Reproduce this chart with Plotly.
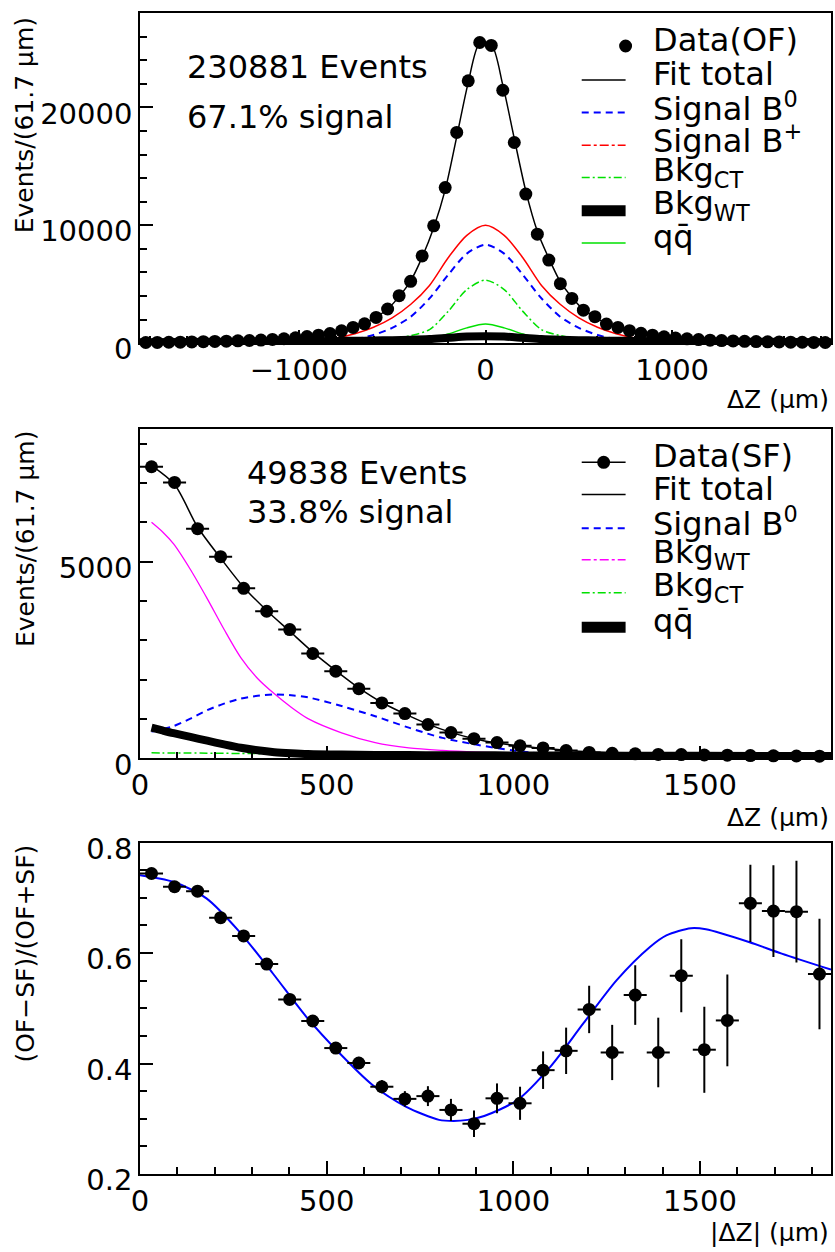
import plotly.graph_objects as go

# ---------------- data ----------------
BIN_WIDTH = 61.7  # µm

# |ΔZ| bin centres (61.7 µm bins from 0 to 1851 µm)
ABS_DZ_CENTERS = [30.85, 92.55, 154.25, 215.95, 277.65, 339.35, 401.05, 462.75, 524.45, 586.15,
                  647.85, 709.55, 771.25, 832.95, 894.65, 956.35, 1018.05, 1079.75, 1141.45, 1203.15,
                  1264.85, 1326.55, 1388.25, 1449.95, 1511.65, 1573.35, 1635.05, 1696.75, 1758.45, 1820.15]
# signed ΔZ bin centres (-1851 .. 1851 µm)
DZ_CENTERS = [-c for c in reversed(ABS_DZ_CENTERS)] + ABS_DZ_CENTERS

# opposite-flavour sample
OF_EVENTS = [60, 70, 80, 90, 110, 130, 150, 170, 200, 230,
             270, 320, 380, 460, 560, 680, 820, 1050, 1340, 1640,
             2190, 2900, 4030, 5250, 7400, 9950, 13200, 17870, 22250, 25500,
             25250, 21450, 17020, 12650, 9250, 7050, 5050, 3800, 2800, 2250,
             1620, 1340, 1060, 840, 680, 540, 440, 370, 310, 260,
             220, 190, 160, 140, 120, 110, 90, 80, 70, 60]
OF_FIT_TOTAL = [60, 70, 80, 90, 105, 120, 140, 162, 190, 225,
                265, 315, 375, 450, 550, 680, 840, 1060, 1330, 1680,
                2200, 2900, 3950, 5280, 7300, 9800, 13000, 17500, 22100, 25450,
                25350, 21900, 17350, 12900, 9500, 7200, 5200, 3900, 2850, 2220,
                1650, 1320, 1050, 840, 680, 550, 450, 375, 315, 265,
                225, 190, 162, 140, 120, 105, 90, 80, 70, 60]
OF_CURVE_X = [-1851, -1400, -1000, -800, -700, -600, -500, -400, -300, -200, -100, 0,
              100, 200, 300, 400, 500, 600, 700, 800, 1000, 1400, 1851]
OF_SIGNAL_BPLUS = [0, 20, 150, 450, 800, 1350, 2150, 3300, 4900, 7250, 9150, 10000,
                   9150, 7250, 4900, 3300, 2150, 1350, 800, 450, 150, 20, 0]
OF_SIGNAL_B0 = [0, 5, 30, 150, 330, 700, 1300, 2250, 3800, 5800, 7600, 8350,
                7600, 5800, 3800, 2250, 1300, 700, 330, 150, 30, 5, 0]
OF_BKG_CT = [0, 5, 15, 40, 80, 180, 350, 650, 1150, 2700, 4550, 5350,
             4550, 2700, 1150, 650, 350, 180, 80, 40, 15, 5, 0]
OF_BKG_WT = [90, 120, 150, 190, 210, 230, 260, 300, 360, 460, 560, 600,
             560, 460, 360, 300, 260, 230, 210, 190, 150, 120, 90]
OF_QQ = [0, 0, 5, 20, 30, 40, 80, 150, 350, 780, 1300, 1620,
         1300, 780, 350, 150, 80, 40, 30, 20, 5, 0, 0]

# same-flavour sample
SF_EVENTS = [7411, 7013, 5838, 5127, 4322, 3739, 3274, 2665, 2216, 1770,
             1410, 1138, 860, 655, 500, 400, 320, 265, 200, 150,
             130, 115, 100, 95, 85, 80, 70, 65, 60, 55]
SF_ERRORS = [86, 84, 76, 72, 66, 61, 57, 52, 47, 42,
             37, 34, 29, 26, 22, 20, 18, 16, 14, 12,
             11, 11, 10, 10, 9, 9, 8, 8, 8, 7]
SF_FIT_TOTAL = [7440, 6960, 5880, 5090, 4350, 3760, 3230, 2700, 2230, 1790,
                1420, 1130, 870, 660, 500, 390, 315, 255, 205, 165,
                140, 120, 108, 98, 90, 83, 77, 72, 67, 62]
SF_CURVE_X = [30.85, 60, 90, 135, 180, 225, 270, 315, 360, 405, 450, 540, 630, 720, 810, 900,
              1000, 1100, 1300, 1500, 1851]
SF_SIGNAL_B0 = [680, 740, 820, 1010, 1225, 1390, 1520, 1590, 1625, 1605, 1550, 1330, 1070, 780, 520, 350,
                200, 100, 30, 8, 0]
SF_BKG_WT = [6000, 5760, 5450, 4800, 4060, 3280, 2560, 2030, 1640, 1300, 1010, 650, 400, 265, 200, 158,
             130, 110, 90, 75, 60]
SF_BKG_CT = [140, 139, 138, 135, 132, 128, 124, 120, 115, 110, 105, 96, 88, 80, 72, 64,
             56, 48, 36, 26, 15]
SF_QQ = [780, 710, 640, 545, 450, 355, 268, 205, 158, 130, 110, 95, 88, 84, 80, 78,
         75, 72, 68, 64, 58]

# asymmetry (OF-SF)/(OF+SF)
ASYM = [0.744, 0.720, 0.712, 0.664, 0.631, 0.580, 0.516, 0.477, 0.428, 0.401,
        0.358, 0.336, 0.341, 0.316, 0.291, 0.337, 0.328, 0.388, 0.423, 0.498,
        0.420, 0.524, 0.420, 0.559, 0.425, 0.478, 0.690, 0.676, 0.675, 0.562]
ASYM_ERR = [0.006, 0.006, 0.007, 0.007, 0.008, 0.008, 0.009, 0.010, 0.010, 0.011,
            0.012, 0.014, 0.018, 0.020, 0.024, 0.027, 0.030, 0.034, 0.042, 0.043,
            0.050, 0.054, 0.063, 0.066, 0.078, 0.083, 0.070, 0.083, 0.092, 0.100]
ASYM_FIT_X = [0, 89, 178, 267, 356, 445, 534, 623, 712, 801, 840, 878, 922, 1011,
              1099, 1188, 1277, 1366, 1410, 1476, 1516, 1631, 1719, 1851]
ASYM_FIT = [0.741, 0.729, 0.699, 0.638, 0.563, 0.485, 0.419, 0.361, 0.322, 0.298, 0.296, 0.298, 0.305, 0.334,
            0.394, 0.473, 0.551, 0.611, 0.632, 0.645, 0.643, 0.620, 0.599, 0.570]

# ---------------- layout geometry ----------------
W, H = 835, 1252
ML, MR, MT, MB = 140, 2, 12, 78
PW, PH = W - ML - MR, H - MT - MB
FONT = "DejaVu Sans"
BLUE, RED, GREEN, MAGENTA = "#0000ff", "#ff0000", "#00e000", "#ff00ff"
TEXT_LIFT = 6  # raise horizontal labels so the cap height is centred on the anchor


def px(x):
    return (x - ML) / PW


def py(y):
    return 1 - (y - MT) / PH


fig = go.Figure()


def curve(x, y, color, width, xa, ya, dash="solid"):
    fig.add_trace(go.Scatter(x=x, y=y, mode="lines", xaxis=xa, yaxis=ya, showlegend=False,
                             line=dict(color=color, width=width, dash=dash, shape="spline", smoothing=0.8)))


def points(x, y, xa, ya, yerr=None):
    fig.add_trace(go.Scatter(
        x=x, y=y, mode="markers", xaxis=xa, yaxis=ya, showlegend=False, cliponaxis=False,
        marker=dict(color="black", size=13),
        error_x=dict(type="constant", value=BIN_WIDTH / 2, thickness=2, width=0, color="black"),
        error_y=(dict(type="data", array=yerr, thickness=2, width=0, color="black")
                 if yerr is not None else dict(visible=False))))


# top panel: ΔZ for opposite-flavour events
curve(OF_CURVE_X, OF_QQ, GREEN, 1.5, "x", "y")
curve(OF_CURVE_X, OF_BKG_CT, GREEN, 1.5, "x", "y", dash="8px,3px,2px,3px")
curve(OF_CURVE_X, OF_SIGNAL_B0, BLUE, 2, "x", "y", dash="7px,5px")
curve(OF_CURVE_X, OF_SIGNAL_BPLUS, RED, 1.5, "x", "y")
curve(OF_CURVE_X, OF_BKG_WT, "black", 8, "x", "y")
points(DZ_CENTERS, OF_EVENTS, "x", "y")
curve(DZ_CENTERS, OF_FIT_TOTAL, "black", 1.5, "x", "y")

# middle panel: |ΔZ| for same-flavour events
curve(SF_CURVE_X, SF_BKG_CT, GREEN, 1.5, "x2", "y2", dash="8px,3px,2px,3px")
curve(SF_CURVE_X, SF_BKG_WT, MAGENTA, 1.3, "x2", "y2")
curve(SF_CURVE_X, SF_SIGNAL_B0, BLUE, 2, "x2", "y2", dash="7px,5px")
curve(SF_CURVE_X, SF_QQ, "black", 8, "x2", "y2")
points(ABS_DZ_CENTERS, SF_EVENTS, "x2", "y2", SF_ERRORS)
curve(ABS_DZ_CENTERS, SF_FIT_TOTAL, "black", 1.5, "x2", "y2")

# bottom panel: asymmetry
curve(ASYM_FIT_X, ASYM_FIT, BLUE, 2, "x3", "y3")
points(ABS_DZ_CENTERS, ASYM, "x3", "y3", ASYM_ERR)

# ---------------- axes ----------------
def axis(**kw):
    base = dict(showline=True, linecolor="black", linewidth=1.5, mirror=True,
                ticks="inside", ticklen=13, tickwidth=1.5, tickcolor="black",
                showgrid=False, zeroline=False, tickangle=0,
                tickfont=dict(family=FONT, size=29, color="black"))
    base.update(kw)
    return base


MINOR = dict(ticks="inside", ticklen=7, tickwidth=1.5, tickcolor="black", showgrid=False)

fig.update_layout(
    width=W, height=H, margin=dict(l=ML, r=MR, t=MT, b=MB),
    paper_bgcolor="white", plot_bgcolor="white", showlegend=False,
    font=dict(family=FONT, color="black"),
    xaxis=axis(range=[-1851, 1851], dtick=1000, tick0=0, anchor="y", domain=[0, 1],
               minor=dict(dtick=200, **MINOR)),
    yaxis=axis(range=[0, 28000], dtick=10000, tickformat="d", anchor="x", ticklabelshift=6,
               domain=[py(342.5), 1], minor=dict(dtick=2000, **MINOR)),
    xaxis2=axis(range=[0, 1851], dtick=500, tick0=0, anchor="y2", domain=[0, 1],
                minor=dict(dtick=100, **MINOR)),
    yaxis2=axis(range=[0, 8380], dtick=5000, tickformat="d", anchor="x2", ticklabelshift=6,
                domain=[py(758), py(428)], minor=dict(dtick=1000, **MINOR)),
    xaxis3=axis(range=[0, 1851], dtick=500, tick0=0, anchor="y3", domain=[0, 1],
                minor=dict(dtick=100, **MINOR)),
    yaxis3=axis(range=[0.2, 0.8], dtick=0.2, tick0=0.2, anchor="x3", ticklabelshift=6,
                domain=[0, py(842.3)], minor=dict(dtick=0.05, **MINOR)),
)

# ---------------- titles and texts ----------------
ann = []


def text(x, y, s, size, xanchor="left", yanchor="middle", angle=0, lift=TEXT_LIFT):
    ann.append(dict(x=px(x), y=py(y), xref="paper", yref="paper", text=s, showarrow=False,
                    xanchor=xanchor, yanchor=yanchor, textangle=angle, yshift=lift,
                    font=dict(family=FONT, size=size, color="black")))


text(25, 14, "Events/(61.7 µm)", 25, xanchor="center", yanchor="top", angle=-90, lift=0)
text(25, 428, "Events/(61.7 µm)", 25, xanchor="center", yanchor="top", angle=-90, lift=0)
text(25, 842, "(OF−SF)/(OF+SF)", 25, xanchor="center", yanchor="top", angle=-90, lift=0)
text(833, 403, "ΔZ (µm)", 25, xanchor="right", lift=4)
text(833, 821, "ΔZ (µm)", 25, xanchor="right", lift=4)
text(833, 1237, "|ΔZ| (µm)", 25, xanchor="right", lift=4)

text(185, 72, "230881 Events", 32)
text(185, 122, "67.1% signal", 32)
text(245, 478, "49838 Events", 32)
text(245, 517, "33.8% signal", 32)

# legend keys
shapes = []
KEY_X0, KEY_X1, LABEL_X = 583, 627, 652


def key_line(y, color, width, dash="solid"):
    shapes.append(dict(type="line", xref="paper", yref="paper", x0=px(KEY_X0), x1=px(KEY_X1),
                       y0=py(y), y1=py(y), line=dict(color=color, width=width, dash=dash)))


def key_dot(x, y, r=6.5):
    shapes.append(dict(type="circle", xref="paper", yref="paper", x0=px(x - r), x1=px(x + r),
                       y0=py(y + r), y1=py(y - r), fillcolor="black", line=dict(color="black", width=0)))


top_rows = [
    (45, "Data(OF)", None),
    (79, "Fit total", ("black", 1.5, "solid")),
    (111.7, "Signal B<sup>0</sup>", (BLUE, 2, "7px,5px")),
    (144.3, "Signal B<sup>+</sup>", (RED, 1.5, "dashdot")),
    (176.7, "Bkg<sub>CT</sub>", (GREEN, 1.5, "8px,3px,2px,3px")),
    (210, "Bkg<sub>WT</sub>", ("black", 11, "solid")),
    (242.3, "qq\u0304", (GREEN, 1.5, "solid")),
]
mid_rows = [
    (461.7, "Data(SF)", ("black", 1.5, "solid")),
    (494, "Fit total", ("black", 1.5, "solid")),
    (527.7, "Signal B<sup>0</sup>", (BLUE, 2, "7px,5px")),
    (559.3, "Bkg<sub>WT</sub>", (MAGENTA, 1.5, "dashdot")),
    (592.3, "Bkg<sub>CT</sub>", (GREEN, 1.5, "8px,3px,2px,3px")),
    (626.7, "qq\u0304", ("black", 11, "solid")),
]
for y, label, style in top_rows + mid_rows:
    if style is not None:
        key_line(y, *style)
    text(LABEL_X, y, label, 32)
key_dot(627, 45)
key_dot(605, 461.7)

fig.update_layout(annotations=ann, shapes=shapes)
fig.write_html("out.html")
